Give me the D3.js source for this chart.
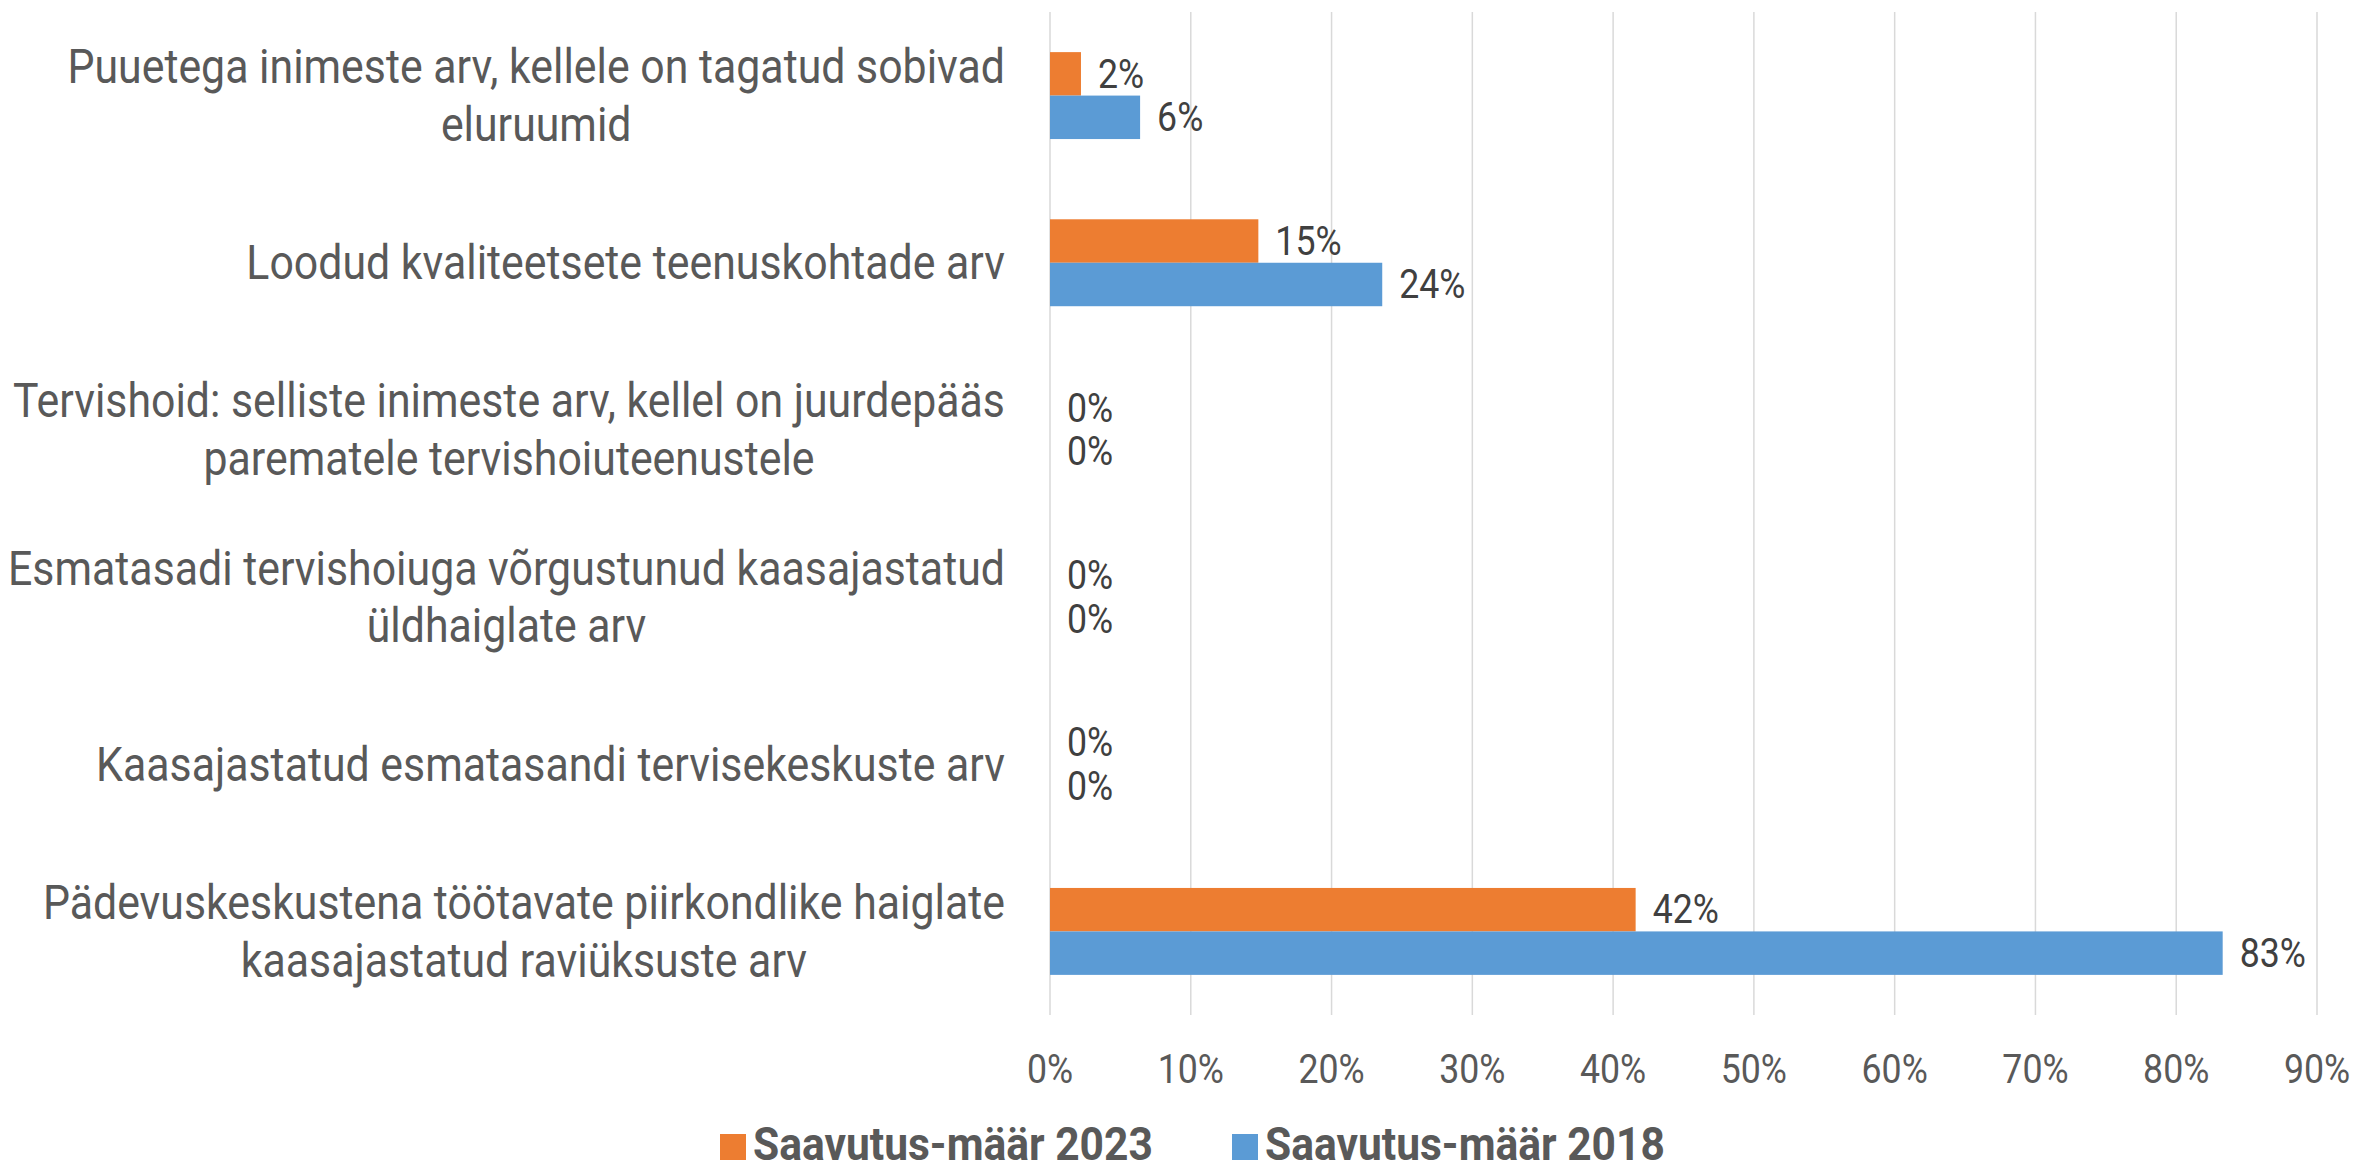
<!DOCTYPE html>
<html>
<head>
<meta charset="utf-8">
<script src="https://cdn.jsdelivr.net/npm/d3@7"></script>
<style>
  body { margin: 0; background: #fff; }
  text { font-family: Roboto, "Noto Sans", sans-serif; }
</style>
</head>
<body>
<div class="chart"></div>
<script>
// categories, top to bottom, with line breaks as in the original
const categories = [
  ["Puuetega inimeste arv, kellele on tagatud sobivad", "eluruumid"],
  ["Loodud kvaliteetsete teenuskohtade arv"],
  ["Tervishoid: selliste inimeste arv, kellel on juurdepääs", "parematele tervishoiuteenustele"],
  ["Esmatasadi tervishoiuga võrgustunud kaasajastatud", "üldhaiglate arv"],
  ["Kaasajastatud esmatasandi tervisekeskuste arv"],
  ["Pädevuskeskustena töötavate piirkondlike haiglate", "kaasajastatud raviüksuste arv"]
]
const seriesNames = ["Saavutus-määr 2023", "Saavutus-määr 2018"]
const values2023 = [0.022, 0.148, 0, 0, 0, 0.416]
const values2018 = [0.064, 0.236, 0, 0, 0, 0.833]
const xTicks = [0, 0.1, 0.2, 0.3, 0.4, 0.5, 0.6, 0.7, 0.8, 0.9]

const colors = ["#ED7D31", "#5B9BD5"]
const W = 2357, H = 1165
const plot = {left: 1050, right: 2317, top: 12, bottom: 1015}

const svg = d3.select(".chart").append("svg")
  .attr("width", W)
  .attr("height", H)

const xScale = d3.scaleLinear().domain([0, 0.9]).range([plot.left, plot.right])
const yScale = d3.scaleBand().domain(d3.range(categories.length))
  .range([plot.top, plot.bottom]).paddingInner(0.48).paddingOuter(0.24)
const ySub = d3.scaleBand().domain([0, 1]).range([0, yScale.bandwidth()])

const pct = d3.format(".0%")

// measure how much Roboto must be squeezed to look like the condensed face
const probe = svg.append("text").attr("font-size", 48).text(categories[2][0])
const sx = 992 / probe.node().getComputedTextLength()
probe.remove()
// same for the bold legend face
const probeB = svg.append("text").attr("font-size", 46).attr("font-weight", "bold").text(seriesNames[0])
const sxB = 400 / probeB.node().getComputedTextLength()
probeB.remove()

// gridlines
svg.append("g").selectAll("line").data(xTicks).enter().append("line")
  .attr("x1", d => xScale(d)).attr("x2", d => xScale(d))
  .attr("y1", plot.top).attr("y2", plot.bottom)
  .attr("stroke", "#D9D9D9").attr("stroke-width", 1.5)

// tick labels
svg.append("g").selectAll("text").data(xTicks).enter().append("text")
  .attr("transform", d => `translate(${xScale(d)},1069) scale(${sx},1)`)
  .attr("text-anchor", "middle")
  .attr("dominant-baseline", "central")
  .attr("font-size", 40)
  .attr("fill", "#595959")
  .text(d => pct(d))

// bars
const series = [values2023, values2018]
series.forEach((vals, s) => {
  const g = svg.append("g")
  g.selectAll("rect").data(vals).enter().append("rect")
    .attr("x", xScale(0))
    .attr("y", (d, i) => yScale(i) + ySub(s))
    .attr("width", d => xScale(d) - xScale(0))
    .attr("height", ySub.bandwidth())
    .attr("fill", colors[s])
  g.selectAll("text").data(vals).enter().append("text")
    .attr("transform", (d, i) => `translate(${xScale(d) + 17},${yScale(i) + ySub(s) + ySub.bandwidth() / 2}) scale(${sx},1)`)
    .attr("dominant-baseline", "central")
    .attr("font-size", 40)
    .attr("fill", "#404040")
    .text(d => pct(d))
})

// category labels, centred lines in a right-aligned block
const lineH = 57.6
const labels = svg.append("g")
categories.forEach((lines, i) => {
  const g = labels.append("g")
  const cy = yScale(i) + yScale.bandwidth() / 2
  const texts = g.selectAll("text").data(lines).enter().append("text")
    .attr("text-anchor", "middle")
    .attr("dominant-baseline", "central")
    .attr("font-size", 48)
    .attr("fill", "#595959")
    .text(d => d)
  let maxW = 0
  texts.each(function() { maxW = Math.max(maxW, this.getComputedTextLength()) })
  const cx = 1005 - maxW * sx / 2
  texts.attr("transform", (d, j) => `translate(${cx},${cy + (j - (lines.length - 1) / 2) * lineH}) scale(${sx},1)`)
})

// legend
const legendX = [720, 1232]
const legend = svg.append("g")
seriesNames.forEach((name, s) => {
  legend.append("rect")
    .attr("x", legendX[s]).attr("y", 1134)
    .attr("width", 26).attr("height", 26)
    .attr("fill", colors[s])
  legend.append("text")
    .attr("transform", `translate(${legendX[s] + 33},1160) scale(${sxB},1)`)
    .attr("font-size", 46)
    .attr("font-weight", "bold")
    .attr("fill", "#595959")
    .text(name)
})
</script>
</body>
</html>
